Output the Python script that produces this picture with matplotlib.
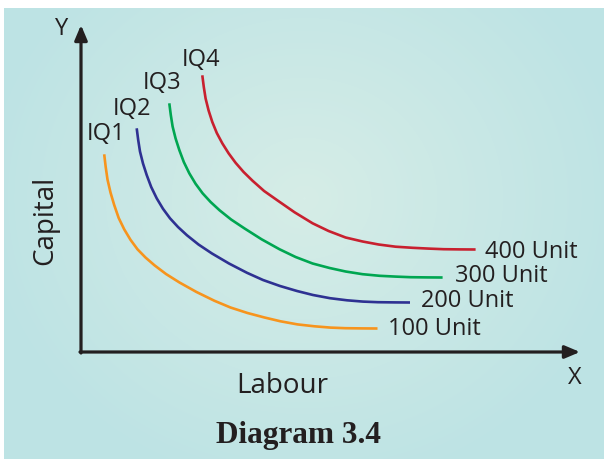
import numpy as np
import matplotlib
matplotlib.use("Agg")
import matplotlib.pyplot as plt
from matplotlib.colors import LinearSegmentedColormap

# ---- data (labour, capital) ----
iq1_labour = [2.32, 2.47, 2.65, 2.95, 3.32, 3.77, 4.32, 4.95, 5.65, 6.45, 7.35, 8.5, 9.85, 11.55, 13.35, 14.95, 16.65, 18.35, 19.95, 21.65, 23.35, 24.95, 26.45, 28.15, 29.65]
iq1_capital = [19.77, 18.5, 17.25, 15.95, 14.7, 13.4, 12.27, 11.22, 10.27, 9.45, 8.67, 7.8, 6.95, 6.0, 5.12, 4.45, 3.9, 3.45, 3.07, 2.76, 2.57, 2.44, 2.38, 2.36, 2.35]

iq2_labour = [5.57, 5.72, 5.9, 6.2, 6.57, 7.02, 7.57, 8.2, 8.9, 9.7, 10.6, 11.75, 13.1, 14.8, 16.6, 18.2, 19.9, 21.6, 23.2, 24.9, 26.6, 28.2, 29.7, 31.4, 32.9]
iq2_capital = [22.37, 21.2, 20.05, 18.85, 17.7, 16.5, 15.37, 14.32, 13.37, 12.5, 11.67, 10.75, 9.85, 8.85, 7.92, 7.2, 6.6, 6.1, 5.7, 5.38, 5.17, 5.04, 4.98, 4.96, 4.95]

iq3_labour = [8.83, 8.98, 9.16, 9.46, 9.83, 10.28, 10.83, 11.46, 12.16, 12.96, 13.86, 15.01, 16.36, 18.06, 19.86, 21.46, 23.16, 24.86, 26.46, 28.16, 29.86, 31.46, 32.96, 34.66, 36.16]
iq3_capital = [24.87, 23.7, 22.55, 21.35, 20.2, 19.0, 17.87, 16.82, 15.87, 15.0, 14.17, 13.25, 12.35, 11.27, 10.27, 9.5, 8.85, 8.4, 8.05, 7.78, 7.62, 7.54, 7.48, 7.46, 7.45]

iq4_labour = [12.13, 12.28, 12.46, 12.76, 13.13, 13.58, 14.13, 14.76, 15.46, 16.26, 17.16, 18.31, 19.66, 21.36, 23.16, 24.76, 26.46, 28.16, 29.76, 31.46, 33.16, 34.76, 36.26, 37.96, 39.46]
iq4_capital = [27.67, 26.5, 25.35, 24.15, 23.0, 21.9, 20.87, 19.87, 18.92, 18.0, 17.12, 16.1, 15.15, 13.97, 12.87, 12.1, 11.45, 11.05, 10.75, 10.53, 10.42, 10.34, 10.28, 10.26, 10.25]

curve_names = ["IQ1", "IQ2", "IQ3", "IQ4"]
output_labels = ["100 Unit", "200 Unit", "300 Unit", "400 Unit"]
colors = ["#F7941D", "#2E3192", "#00A651", "#C8202F"]

# label offsets in pixels (style/layout, not data)
name_offsets = [(2, 14), (-4.5, 13), (-7.5, 14), (-1, 9)]
unit_offsets = [(11, 2.5), (11, 4.5), (12, 4.5), (9, 0.5)]

FONT = ["Open Sans", "DejaVu Sans"]
TXT = "#231F20"

fig = plt.figure(figsize=(6.04, 4.59), dpi=100)
fig.patch.set_facecolor("white")

# background panel with soft radial gradient
bg = fig.add_axes([0, 0, 1, 1])
bg.set_xlim(0, 604)
bg.set_ylim(459, 0)
bg.axis("off")
W, H = 600, 451
yy, xx = np.mgrid[0:H, 0:W]
cx, cy = 300, 190
r = np.sqrt(((xx - cx) / 330.0) ** 2 + ((yy - cy) / 300.0) ** 2)
r = np.clip(r, 0, 1)
cmap = LinearSegmentedColormap.from_list("bgc", ["#D6EDE7", "#BDE3E4"])
bg.imshow(r, cmap=cmap, vmin=0, vmax=1, extent=(4, 604, 459, 8), aspect="auto", interpolation="bilinear")

# main axes: origin at the axis corner
ax = fig.add_axes([81 / 604, 107 / 459, 500 / 604, 330 / 459])
ax.set_xlim(0, 50)
ax.set_ylim(0, 33)
ax.axis("off")
ax.patch.set_alpha(0)

arrow = dict(arrowstyle="-|>,head_length=0.9,head_width=0.38", lw=2.3, color=TXT, shrinkA=0, shrinkB=0)
ax.annotate("", xy=(0, 32.7), xytext=(0, -0.1), arrowprops=arrow)
ax.annotate("", xy=(49.9, 0), xytext=(-0.1, 0), arrowprops=arrow)

series = [(iq1_labour, iq1_capital), (iq2_labour, iq2_capital), (iq3_labour, iq3_capital), (iq4_labour, iq4_capital)]
for (lx, ly), c, name, lab, no, uo in zip(series, colors, curve_names, output_labels, name_offsets, unit_offsets):
    ax.plot(lx, ly, color=c, lw=1.9, solid_capstyle="butt", solid_joinstyle="round")
    ax.annotate(name, xy=(lx[0], ly[0]), xytext=no, textcoords="offset pixels",
                ha="center", va="baseline", fontsize=17, color=TXT, family=FONT)
    ax.annotate(lab, xy=(lx[-1], ly[-1]), xytext=uo, textcoords="offset pixels",
                ha="left", va="center_baseline", fontsize=17, color=TXT, family=FONT)

ax.text(-1.9, 32.3, "Y", ha="center", va="center", fontsize=17, color=TXT, family=FONT)
ax.text(49.4, -2.6, "X", ha="center", va="center", fontsize=17, color=TXT, family=FONT)
ax.text(20.1, -3.4, "Labour", ha="center", va="center", fontsize=20, color=TXT, family=FONT)
ax.text(-3.6, 13.2, "Capital", ha="center", va="center", rotation=90, fontsize=20, color=TXT, family=FONT)

fig.text(298.5 / 604, 1 - 436 / 459, "Diagram 3.4", ha="center", va="center", fontsize=22.5,
         fontweight="bold", color=TXT, family=["Liberation Serif", "DejaVu Serif"])

fig.savefig("out.png", dpi=100)
